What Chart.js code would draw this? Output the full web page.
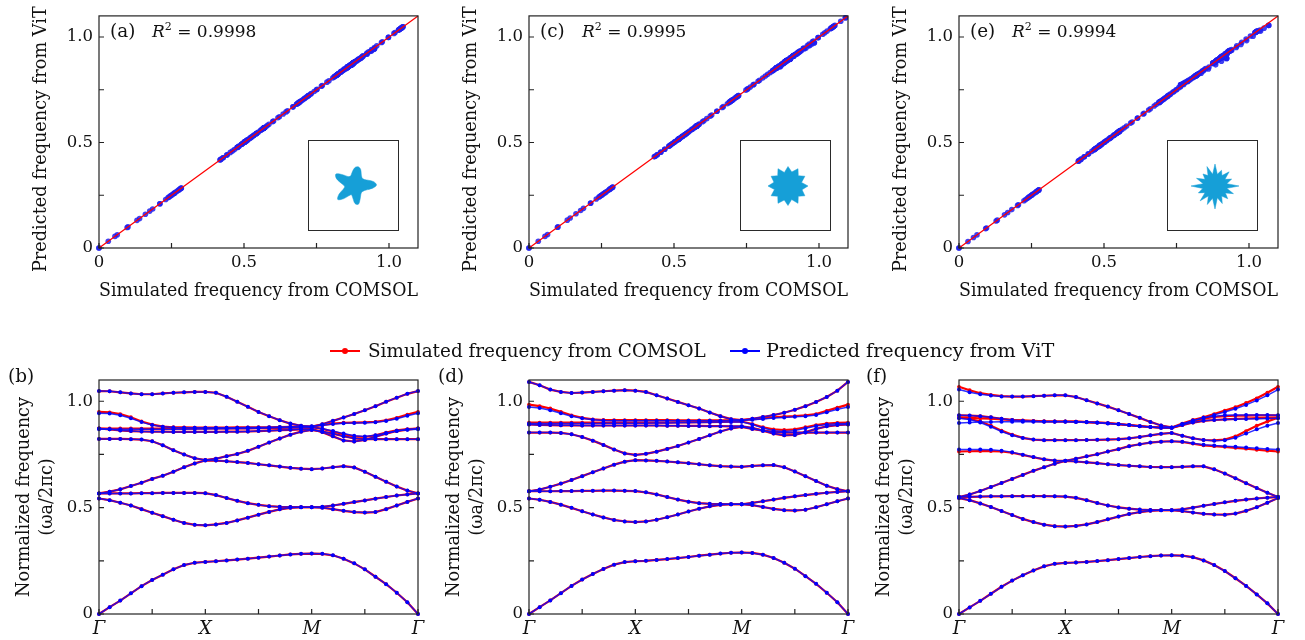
<!DOCTYPE html>
<html><head><meta charset="utf-8">
<script src="https://cdn.jsdelivr.net/npm/chart.js@4.4.1/dist/chart.umd.min.js"></script>
<style>
html,body{margin:0;padding:0;background:#fff;}
body{width:1305px;height:640px;position:relative;overflow:hidden;font-family:'DejaVu Serif',serif;color:#111;}
canvas{position:absolute;}
.txt{position:absolute;font-size:17px;line-height:1.2;white-space:nowrap;transform:translateY(-50%);}
.leg{font-size:18.4px;}
.leg2{font-size:19.2px;}
.box{position:absolute;border:1px solid #2a2a2a;box-sizing:border-box;width:91px;height:91px;}
.sw{position:absolute;height:2px;width:30px;}
.dot{position:absolute;width:6px;height:6px;border-radius:50%;}
.sup{font-size:11px;position:relative;top:-7px;}
</style></head><body>
<script>
// ---------------- DATA ----------------
const kSymbols = ['Γ','X','M','Γ'];            // high-symmetry points, every 10 samples
const kTicks = [0,5,10,15,20,25,30];
const freqTicks = [0,0.25,0.5,0.75,1.0];
const freqTickLabels = ['0','','0.5','','1.0'];
const diagLine = [0,1.1];
const r2Values = ['0.9998','0.9995','0.9994'];
const panelTags = ['(a)','(b)','(c)','(d)','(e)','(f)'];
const legendLabels = ['Simulated frequency from COMSOL','Predicted frequency from ViT'];
const xTitleTop = 'Simulated frequency from COMSOL';
const yTitleTop = 'Predicted frequency from ViT\u2002 ';
const yTitleBottom = ['Normalized frequency','(ωa/2πc)'];

// Panel (b): COMSOL bands along Γ-X-M-Γ
const comB = [
 [0,0.032,0.063,0.097,0.131,0.16,0.185,0.21,0.23,0.241,0.245,0.248,0.252,0.256,0.26,0.265,0.27,0.275,0.28,0.283,0.284,0.283,0.276,0.26,0.238,0.21,0.175,0.14,0.1,0.055,0],
 [0.543,0.535,0.523,0.51,0.493,0.476,0.46,0.443,0.428,0.419,0.417,0.421,0.428,0.44,0.453,0.467,0.48,0.492,0.499,0.502,0.502,0.5,0.493,0.485,0.479,0.477,0.479,0.493,0.51,0.527,0.543],
 [0.567,0.567,0.567,0.567,0.568,0.568,0.569,0.569,0.569,0.569,0.568,0.559,0.545,0.532,0.521,0.513,0.507,0.504,0.503,0.502,0.502,0.504,0.51,0.518,0.526,0.534,0.542,0.55,0.557,0.562,0.567],
 [0.567,0.575,0.586,0.602,0.617,0.635,0.65,0.669,0.69,0.708,0.722,0.721,0.718,0.714,0.71,0.704,0.699,0.693,0.687,0.683,0.681,0.684,0.69,0.695,0.689,0.669,0.645,0.622,0.599,0.58,0.567],
 [0.823,0.823,0.823,0.822,0.82,0.812,0.793,0.77,0.75,0.732,0.724,0.73,0.742,0.752,0.767,0.786,0.806,0.825,0.843,0.857,0.865,0.858,0.848,0.836,0.826,0.822,0.822,0.822,0.822,0.822,0.822],
 [0.872,0.868,0.863,0.86,0.858,0.857,0.857,0.856,0.856,0.856,0.856,0.856,0.857,0.857,0.858,0.86,0.862,0.864,0.866,0.868,0.869,0.855,0.835,0.816,0.811,0.818,0.833,0.848,0.86,0.867,0.872],
 [0.872,0.872,0.872,0.872,0.871,0.871,0.871,0.871,0.871,0.871,0.872,0.872,0.872,0.873,0.873,0.874,0.874,0.875,0.876,0.877,0.878,0.87,0.858,0.845,0.835,0.832,0.84,0.853,0.863,0.869,0.872],
 [0.95,0.948,0.94,0.925,0.905,0.89,0.881,0.878,0.877,0.876,0.876,0.876,0.876,0.877,0.877,0.878,0.878,0.879,0.88,0.881,0.882,0.888,0.895,0.899,0.9,0.901,0.903,0.91,0.922,0.937,0.95],
 [1.048,1.047,1.042,1.037,1.033,1.033,1.037,1.04,1.042,1.044,1.044,1.04,1.021,0.998,0.974,0.95,0.93,0.911,0.895,0.885,0.88,0.892,0.908,0.924,0.94,0.958,0.977,0.998,1.017,1.035,1.048]
];
// Panel (b): ViT predictions (bands that coincide with COMSOL reuse its values)
const vitB7 = [0.868,0.868,0.869,0.869,0.869,0.869,0.869,0.869,0.869,0.87,0.87,0.871,0.871,0.872,0.872,0.873,0.874,0.875,0.876,0.877,0.878,0.871,0.86,0.848,0.838,0.834,0.84,0.851,0.861,0.866,0.868];
const vitB8 = [0.944,0.942,0.934,0.92,0.902,0.888,0.88,0.877,0.876,0.875,0.875,0.875,0.876,0.876,0.877,0.877,0.878,0.879,0.88,0.881,0.882,0.887,0.893,0.897,0.898,0.899,0.901,0.907,0.918,0.932,0.944];
const vitB = [comB[0],comB[1],comB[2],comB[3],comB[4],comB[5],vitB7,vitB8,comB[8]];

// Panel (d)
const comD = [
 [0,0.032,0.064,0.098,0.132,0.162,0.188,0.212,0.232,0.244,0.248,0.25,0.254,0.258,0.263,0.268,0.274,0.279,0.284,0.288,0.289,0.287,0.279,0.263,0.241,0.213,0.178,0.142,0.1,0.055,0],
 [0.543,0.537,0.527,0.514,0.499,0.483,0.468,0.454,0.442,0.435,0.432,0.435,0.443,0.455,0.468,0.482,0.495,0.506,0.513,0.516,0.516,0.512,0.503,0.494,0.488,0.486,0.49,0.502,0.516,0.53,0.543],
 [0.577,0.577,0.577,0.578,0.578,0.579,0.579,0.58,0.58,0.579,0.578,0.572,0.562,0.55,0.538,0.528,0.521,0.518,0.517,0.516,0.516,0.522,0.53,0.538,0.546,0.553,0.559,0.565,0.57,0.574,0.577],
 [0.577,0.585,0.598,0.613,0.63,0.648,0.666,0.684,0.702,0.716,0.723,0.722,0.72,0.717,0.713,0.709,0.704,0.699,0.695,0.693,0.692,0.696,0.699,0.7,0.69,0.67,0.648,0.625,0.603,0.587,0.577],
 [0.853,0.853,0.853,0.851,0.845,0.832,0.815,0.795,0.773,0.755,0.748,0.753,0.763,0.776,0.79,0.806,0.823,0.84,0.858,0.872,0.88,0.87,0.862,0.856,0.853,0.853,0.853,0.853,0.853,0.853,0.853],
 [0.891,0.889,0.888,0.887,0.887,0.886,0.886,0.886,0.886,0.886,0.886,0.886,0.886,0.885,0.885,0.884,0.884,0.883,0.883,0.882,0.882,0.875,0.862,0.848,0.84,0.842,0.855,0.87,0.882,0.888,0.891],
 [0.9,0.9,0.9,0.9,0.9,0.9,0.9,0.9,0.9,0.9,0.9,0.9,0.9,0.9,0.901,0.901,0.902,0.902,0.903,0.904,0.905,0.893,0.878,0.868,0.865,0.868,0.878,0.888,0.895,0.898,0.9],
 [0.984,0.977,0.966,0.95,0.934,0.922,0.915,0.912,0.911,0.911,0.911,0.911,0.911,0.911,0.91,0.91,0.91,0.91,0.91,0.91,0.911,0.915,0.92,0.925,0.928,0.93,0.934,0.94,0.955,0.97,0.984],
 [1.091,1.075,1.055,1.044,1.039,1.041,1.044,1.047,1.05,1.052,1.05,1.044,1.028,1.013,0.997,0.981,0.966,0.947,0.93,0.916,0.911,0.918,0.926,0.935,0.946,0.96,0.977,0.997,1.02,1.05,1.091]
];
const vitD7 = [0.895,0.895,0.895,0.896,0.896,0.896,0.896,0.897,0.897,0.897,0.897,0.897,0.898,0.898,0.899,0.9,0.9,0.901,0.902,0.903,0.904,0.891,0.874,0.862,0.858,0.862,0.873,0.884,0.891,0.894,0.895];
const vitD8 = [0.973,0.968,0.958,0.944,0.93,0.92,0.913,0.91,0.909,0.909,0.909,0.909,0.909,0.909,0.909,0.909,0.909,0.909,0.909,0.91,0.911,0.913,0.917,0.921,0.924,0.927,0.93,0.936,0.948,0.962,0.973];
const vitD = [comD[0],comD[1],comD[2],comD[3],comD[4],comD[5],vitD7,vitD8,comD[8]];

// Panel (f)
const comF = [
 [0,0.031,0.062,0.095,0.128,0.157,0.182,0.205,0.224,0.236,0.24,0.242,0.245,0.249,0.253,0.258,0.263,0.268,0.272,0.275,0.276,0.274,0.267,0.252,0.23,0.202,0.168,0.132,0.092,0.05,0],
 [0.545,0.535,0.52,0.503,0.484,0.465,0.447,0.432,0.42,0.413,0.411,0.414,0.421,0.432,0.445,0.458,0.47,0.479,0.485,0.488,0.488,0.484,0.477,0.471,0.468,0.467,0.472,0.485,0.502,0.523,0.545],
 [0.55,0.551,0.552,0.553,0.553,0.554,0.554,0.554,0.554,0.553,0.552,0.546,0.535,0.522,0.51,0.501,0.495,0.491,0.489,0.488,0.488,0.492,0.5,0.509,0.517,0.525,0.532,0.538,0.543,0.547,0.55],
 [0.55,0.562,0.578,0.597,0.616,0.635,0.654,0.673,0.69,0.706,0.72,0.717,0.713,0.709,0.704,0.7,0.697,0.694,0.691,0.69,0.69,0.692,0.694,0.694,0.68,0.66,0.638,0.615,0.592,0.57,0.55],
 [0.764,0.765,0.766,0.766,0.764,0.758,0.748,0.737,0.727,0.721,0.72,0.73,0.741,0.751,0.764,0.775,0.789,0.798,0.806,0.81,0.812,0.809,0.801,0.793,0.789,0.786,0.781,0.777,0.772,0.768,0.764],
 [0.923,0.918,0.905,0.885,0.862,0.843,0.828,0.82,0.817,0.817,0.817,0.817,0.818,0.819,0.82,0.822,0.826,0.832,0.84,0.847,0.851,0.838,0.826,0.818,0.816,0.82,0.835,0.86,0.885,0.905,0.923],
 [0.923,0.922,0.92,0.918,0.915,0.912,0.91,0.908,0.906,0.905,0.905,0.904,0.902,0.9,0.897,0.893,0.888,0.883,0.879,0.876,0.875,0.888,0.9,0.908,0.912,0.915,0.917,0.919,0.921,0.922,0.923],
 [0.934,0.933,0.93,0.925,0.918,0.912,0.908,0.906,0.905,0.905,0.905,0.904,0.902,0.9,0.897,0.893,0.888,0.883,0.879,0.876,0.875,0.89,0.905,0.918,0.926,0.93,0.932,0.933,0.934,0.934,0.934],
 [1.068,1.052,1.038,1.03,1.024,1.022,1.022,1.024,1.026,1.028,1.028,1.02,1.005,0.99,0.975,0.958,0.94,0.922,0.903,0.886,0.877,0.895,0.912,0.925,0.94,0.956,0.972,0.992,1.014,1.04,1.068]
];
const vitF5 = [0.773,0.773,0.773,0.772,0.768,0.76,0.749,0.738,0.728,0.722,0.72,0.73,0.741,0.751,0.764,0.775,0.789,0.798,0.806,0.81,0.812,0.81,0.803,0.796,0.792,0.789,0.786,0.783,0.779,0.776,0.773];
const vitF6 = [0.92,0.914,0.9,0.88,0.858,0.84,0.827,0.82,0.817,0.817,0.817,0.817,0.818,0.819,0.82,0.822,0.826,0.832,0.84,0.847,0.851,0.838,0.826,0.818,0.815,0.817,0.828,0.848,0.868,0.885,0.898];
const vitF7 = [0.898,0.9,0.902,0.903,0.904,0.904,0.904,0.904,0.904,0.904,0.904,0.903,0.901,0.899,0.896,0.892,0.888,0.883,0.879,0.876,0.875,0.888,0.9,0.908,0.912,0.914,0.916,0.917,0.918,0.919,0.92];
const vitF8 = [0.934,0.933,0.93,0.925,0.918,0.912,0.908,0.906,0.905,0.905,0.905,0.904,0.902,0.9,0.897,0.893,0.888,0.883,0.879,0.876,0.875,0.892,0.908,0.922,0.93,0.934,0.936,0.936,0.936,0.935,0.934];
const vitF9 = [1.055,1.042,1.033,1.027,1.023,1.022,1.022,1.024,1.026,1.028,1.028,1.02,1.005,0.99,0.975,0.958,0.94,0.922,0.903,0.886,0.877,0.893,0.91,0.922,0.936,0.95,0.965,0.983,1.004,1.028,1.055];
const vitF = [comF[0],comF[1],comF[2],comF[3],vitF5,vitF6,vitF7,vitF8,vitF9];

// Inset unit-cell shapes: radius (px) sampled clockwise from the +x direction
const shapeA = [21.5,18,13.5,11,10,10,11.5,15,19.5,18.5,13,10.5,12.5,18,22.5,18.5,12.5,10.5,11.5,15,20,22,16,11,10,11,14,17.5,18.5,16.5,12.5,10.5,10,11,14,19];
const shapeC = [20,14.5,19.5,14.5,20,14,19.5,14.5,20,14.5,19.5,14,20,14.5,19.5,14.5,20,14,19.5,14.5,20,14.5,19.5,14];
const shapeE = [24,12,20,12.5,18,12,19,12,23,12.5,20,12,21,12,18,12.5,24,12,20,12,17,12.5,21,12,22,12,17,12.5,20,12,18,12];

// ---------------- RENDERING ----------------
Chart.defaults.font.family = "'DejaVu Serif', serif";
Chart.defaults.color = '#111';
const RED = '#ff0000', BLUE = 'rgba(10,10,255,0.85)', BLUE_PT = '#0000ff';
const SHAPE_COL = 'rgb(22,159,215)';
const XTITLE_SIZE = 18.4, YTITLE_SIZE = 17.7, TICK_SIZE = 16.5;

const axisFrame = {
  id: 'axisFrame',
  afterDraw(chart) {
    const {ctx, chartArea: a} = chart;
    const xs = chart.scales.x, ys = chart.scales.y;
    ctx.save();
    ctx.strokeStyle = '#222'; ctx.lineWidth = 1.2;
    ctx.strokeRect(a.left, a.top, a.right - a.left, a.bottom - a.top);
    ctx.beginPath();
    xs.ticks.forEach(t => { const p = xs.getPixelForValue(t.value); ctx.moveTo(p, a.bottom); ctx.lineTo(p, a.bottom - 5); });
    ys.ticks.forEach(t => { const p = ys.getPixelForValue(t.value); ctx.moveTo(a.left, p); ctx.lineTo(a.left + 5, p); });
    ctx.stroke();
    ctx.restore();
  }
};

function makeCanvas(l, t, w, h) {
  const c = document.createElement('canvas');
  c.width = w; c.height = h;
  c.style.left = l + 'px'; c.style.top = t + 'px';
  c.style.width = w + 'px'; c.style.height = h + 'px';
  document.body.appendChild(c);
  return c;
}

function freqAxis(width, titleText, titleFont, titlePad) {
  return {
    type: 'linear', min: 0, max: 1.1,
    afterBuildTicks: s => { s.ticks = freqTicks.map(v => ({value: v})); },
    afterFit: s => { s.width = width; },
    grid: {display: false, drawTicks: false}, border: {display: false},
    ticks: {autoSkip: false, padding: 6, font: {size: TICK_SIZE}, callback: (v, i) => freqTickLabels[i]},
    title: {display: true, text: titleText, font: titleFont, padding: titlePad}
  };
}

const baseOpts = {
  responsive: false, animation: false, devicePixelRatio: 1, events: [],
  plugins: {legend: {display: false}, tooltip: {enabled: false}}
};

function scatterPanel(left, com, vit) {
  const pts = [];
  com.forEach((band, b) => band.forEach((v, i) => pts.push({x: v, y: vit[b][i]})));
  new Chart(makeCanvas(left, 0, 430, 310), {
    type: 'scatter',
    data: {datasets: [
      {data: diagLine.map(v => ({x: v, y: v})), showLine: true, borderColor: RED, borderWidth: 1.2, pointRadius: 0, order: 0, clip: false},
      {data: pts, pointRadius: 2.8, pointBackgroundColor: 'rgba(30,30,240,0.85)', pointBorderWidth: 0, order: 1, clip: false}
    ]},
    options: Object.assign({}, baseOpts, {
      layout: {padding: {left: 0, right: 12, top: 14, bottom: 0}},
      scales: {
        x: {
          type: 'linear', min: 0, max: 1.1,
          afterBuildTicks: s => { s.ticks = freqTicks.map(v => ({value: v})); },
          afterFit: s => { s.height = 62; },
          grid: {display: false, drawTicks: false}, border: {display: false},
          ticks: {autoSkip: false, maxRotation: 0, padding: 5, font: {size: TICK_SIZE}, callback: (v, i) => freqTickLabels[i]},
          title: {display: true, text: xTitleTop, font: {size: XTITLE_SIZE}, padding: {top: 0, bottom: 8}}
        },
        y: freqAxis(99, yTitleTop, {size: YTITLE_SIZE}, {top: 30.4, bottom: 0})
      }
    }),
    plugins: [axisFrame]
  });
}

function bandPanel(left, com, vit) {
  const ds = [];
  com.forEach(band => ds.push({data: band.map((v, i) => ({x: i, y: v})), showLine: true,
    borderColor: RED, borderWidth: 2.2, pointRadius: 1.9, pointBackgroundColor: RED, pointBorderWidth: 0, order: 2, clip: false}));
  vit.forEach(band => ds.push({data: band.map((v, i) => ({x: i, y: v})), showLine: true,
    borderColor: BLUE, borderWidth: 1.5, pointRadius: 2, pointBackgroundColor: BLUE_PT, pointBorderWidth: 0, order: 1, clip: false}));
  new Chart(makeCanvas(left, 330, 430, 310), {
    type: 'scatter',
    data: {datasets: ds},
    options: Object.assign({}, baseOpts, {
      elements: {line: {tension: 0}},
      layout: {padding: {left: 0, right: 12, top: 50, bottom: 0}},
      scales: {
        x: {
          type: 'linear', min: 0, max: 30,
          afterBuildTicks: s => { s.ticks = kTicks.map(v => ({value: v})); },
          afterFit: s => { s.height = 26; },
          grid: {display: false, drawTicks: false}, border: {display: false},
          ticks: {autoSkip: false, maxRotation: 0, padding: 5, font: {size: 18, style: 'italic'},
            callback: v => (v % 10 === 0 ? kSymbols[v / 10] : '')}
        },
        y: freqAxis(99, yTitleBottom, {size: YTITLE_SIZE, lineHeight: 1.3}, {top: 12.5, bottom: 0})
      }
    }),
    plugins: [axisFrame]
  });
}

function inset(boxLeft, cx, cy, radii, tension) {
  const b = document.createElement('div');
  b.className = 'box'; b.style.left = boxLeft + 'px'; b.style.top = '140px';
  document.body.appendChild(b);
  new Chart(makeCanvas(cx - 40, cy - 40, 80, 80), {
    type: 'radar',
    data: {labels: radii.map(() => ''), datasets: [{data: radii, fill: true, backgroundColor: SHAPE_COL,
      borderColor: SHAPE_COL, borderWidth: 0.5, pointRadius: 0, tension: tension}]},
    options: Object.assign({}, baseOpts, {
      layout: {padding: 0},
      scales: {r: {min: 0, max: 40, startAngle: 90, ticks: {display: false}, grid: {display: false},
        angleLines: {display: false}, pointLabels: {display: false}}}
    })
  });
}

scatterPanel(0, comB, vitB);
scatterPanel(430, comD, vitD);
scatterPanel(860, comF, vitF);
bandPanel(0, comB, vitB);
bandPanel(430, comD, vitD);
bandPanel(860, comF, vitF);
inset(308, 355, 185, shapeA, 0.35);
inset(740, 788, 186, shapeC, 0);
inset(1167, 1215, 186, shapeE, 0);

function addText(html, l, t, cls) {
  const d = document.createElement('div');
  d.className = 'txt' + (cls ? ' ' + cls : ''); d.innerHTML = html;
  d.style.left = l + 'px'; d.style.top = t + 'px';
  document.body.appendChild(d);
  return d;
}
const tagPos = [[110,31],[8,376],[540,31],[438,376],[970,31],[866,376]];
panelTags.forEach((t, i) => addText(t, tagPos[i][0], tagPos[i][1], 'leg'));
const r2Left = [152, 582, 1012];
r2Values.forEach((v, i) => addText('<i>R</i><span class="sup">2</span> = ' + v, r2Left[i], 31));

// legend
const legColors = [RED, BLUE_PT];
const legLine = [330, 730], legText = [368, 766], legCls = ['leg', 'leg2'];
legendLabels.forEach((lab, i) => {
  const s = document.createElement('div'); s.className = 'sw';
  s.style.left = legLine[i] + 'px'; s.style.top = '350px'; s.style.background = legColors[i];
  document.body.appendChild(s);
  const d = document.createElement('div'); d.className = 'dot';
  d.style.left = (legLine[i] + 12) + 'px'; d.style.top = '348px'; d.style.background = legColors[i];
  document.body.appendChild(d);
  addText(lab, legText[i], 351, legCls[i]);
});
</script>
</body></html>
